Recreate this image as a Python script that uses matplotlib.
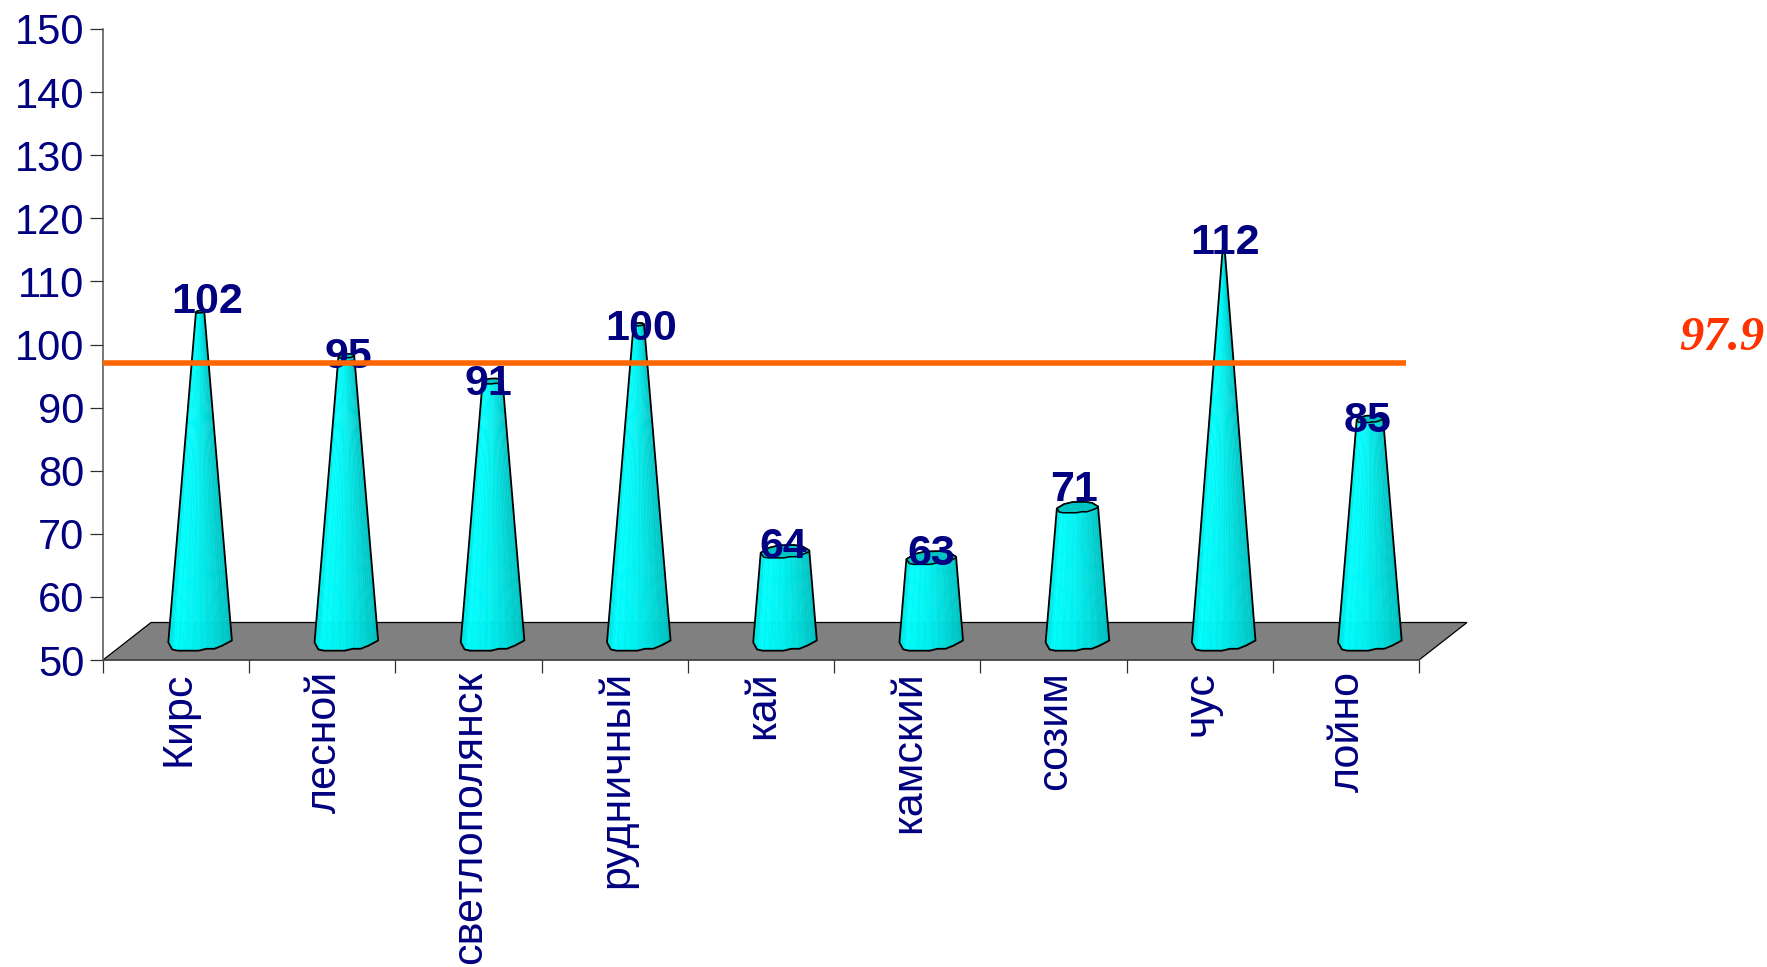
import numpy as np
import matplotlib
matplotlib.use("Agg")
import matplotlib.pyplot as plt
from matplotlib.collections import PolyCollection
from matplotlib.patches import Polygon
from matplotlib.transforms import ScaledTranslation

categories = ["Кирс", "лесной", "светлополянск", "рудничный", "кай", "камский", "созим", "чус", "лойно"]
values = [102, 95, 91, 100, 64, 63, 71, 112, 85]
line_level = 97.1
line_label = "97.9"
y_ticks = list(range(50, 160, 10))

# layout tweaks, in pixels
label_dx = [7, 2, -4, 2, -2, 0, -3, 1, -2]
label_dy = [30, 19, 17, 15, 25, 24, 37, 26, 18]

W, H = 1767, 967
L, R, T, B = 103, 1419, 29, 660
NAVY = "#000080"
plt.rcParams["font.family"] = ["Liberation Sans", "DejaVu Sans"]
fig = plt.figure(figsize=(W / 100, H / 100), dpi=100)
ax = fig.add_axes([L / W, 1 - B / H, (R - L) / W, (B - T) / H])
ax.set_xlim(0, len(categories))
ax.set_ylim(50, 150)
ppx = len(categories) / (R - L)   # data units per pixel, x
ppy = 100 / (B - T)               # data units per pixel, y

for s in ("top", "right"):
    ax.spines[s].set_visible(False)
for s in ("left", "bottom"):
    ax.spines[s].set_color("#505050")
    ax.spines[s].set_linewidth(1.1)
ax.spines["bottom"].set_zorder(1.5)
ax.set_yticks(y_ticks)
ax.tick_params(axis="y", length=9.4, width=0.9, color="#303030", labelsize=30, labelcolor=NAVY, pad=4)
ax.set_xticks(np.arange(len(categories) + 1))
ax.set_xticklabels([])
ax.set_xticks(np.arange(len(categories)) + 0.5, minor=True)
ax.set_xticklabels(categories, minor=True, rotation=90, va="top", ha="center", fontsize=31, color=NAVY)
ax.tick_params(axis="x", which="major", length=9.4, width=0.9, color="#303030")
ax.tick_params(axis="x", which="minor", length=0, pad=8)
shift = ScaledTranslation(2 / 100, 0, fig.dpi_scale_trans)
for lab in ax.get_xticklabels(minor=True):
    lab.set_transform(lab.get_transform() + shift)

# floor
dx_back, dy_back = 48 * ppx, 37.5 * ppy
floor = Polygon([(0, 50), (len(categories), 50), (len(categories) + dx_back, 50 + dy_back), (dx_back, 50 + dy_back)],
                closed=True, fc="#808080", ec="black", lw=0.9, zorder=1, clip_on=False)
ax.add_patch(floor)

# cross-section outlines: u in half widths, v in half widths (pixels)
front_u = np.array([-1, -0.88, -0.7, -0.05, 0.2, 0.45, 0.7, 1.0])
front_v = np.array([-0.06, -0.28, -0.32, -0.32, -0.26, -0.26, -0.16, 0.0])
back_u = np.array([1.0, 0.7, 0.35, -0.25, -0.65, -1.0])
back_v = np.array([0.06, 0.28, 0.34, 0.32, 0.2, -0.06])

ramp_u = [-1, -0.75, -0.1, 0.5, 1]
ramp_g = [0.90, 1.0, 0.95, 0.86, 0.76]
N_STRIPS = 26
BASE_HALF = 31.8     # px
SLOPE_TOP = 262      # px row where the taper would reach zero
BASE_ROW = B - 19    # px row of the base centre
CAP_SQUASH = 0.8

for i, val in enumerate(values):
    cx = i + 0.5 + 24 * ppx
    top_y = val + 20 * ppy                # value raised by floor depth
    top_row = B - (top_y - 50) / ppy
    top_half = max(1.0, BASE_HALF * (top_row - SLOPE_TOP) / (BASE_ROW - SLOPE_TOP))
    base_y = 50 + 19.5 * ppy
    top_v = top_half * CAP_SQUASH

    us = np.linspace(-1, 1, N_STRIPS + 1)
    bv = np.interp(us, front_u, front_v)
    polys, cols = [], []
    for j in range(N_STRIPS):
        u0, u1 = us[j], us[j + 1]
        um = (u0 + u1) / 2
        g = np.interp(um, ramp_u, ramp_g)
        g *= 1 - 0.02 * (j % 3 == 1)
        polys.append([
            (cx + u0 * BASE_HALF * ppx, base_y + bv[j] * BASE_HALF * ppy),
            (cx + u1 * BASE_HALF * ppx, base_y + bv[j + 1] * BASE_HALF * ppy),
            (cx + u1 * top_half * ppx, top_y + bv[j + 1] * top_v * ppy),
            (cx + u0 * top_half * ppx, top_y + bv[j] * top_v * ppy),
        ])
        cols.append((0, g, g))
    ax.add_collection(PolyCollection(polys, facecolors=cols, edgecolors=cols, linewidths=0.3, zorder=2, clip_on=False))

    # silhouette
    sil_x = list(cx + front_u * BASE_HALF * ppx) + list(cx + back_u * top_half * ppx)
    sil_y = list(base_y + front_v * BASE_HALF * ppy) + list(top_y + back_v * top_v * ppy)
    ax.add_patch(Polygon(np.column_stack([sil_x, sil_y]), closed=True, fc="none", ec="black", lw=1.3, zorder=2.5,
                         clip_on=False, joinstyle="round"))
    # top cap
    cap_x = list(cx + front_u * top_half * ppx) + list(cx + back_u * top_half * ppx)
    cap_y = list(top_y + front_v * top_v * ppy) + list(top_y + back_v * top_v * ppy)
    ax.add_patch(Polygon(np.column_stack([cap_x, cap_y]), closed=True, fc="#00C4C4", ec="black", lw=1.1, zorder=2.6,
                         clip_on=False, joinstyle="round"))

    ax.text(i + 0.5 + (24 + label_dx[i]) * ppx, val + label_dy[i] * ppy, str(val), fontsize=31, fontweight="bold",
            color=NAVY, ha="center", va="center", zorder=4, clip_on=False)

# reference line and its label
ax.plot([0, (1406 - L) * ppx], [line_level, line_level], color="#FF6600", lw=4.0, solid_capstyle="butt", zorder=5, clip_on=False)
ax.text(len(categories) + (1722 - R) * ppx, line_level + 24.5 * ppy, line_label, family="Liberation Serif", style="italic",
        fontweight="bold", fontsize=35, color="#FF3300", ha="center", va="center", clip_on=False)

fig.savefig("out.png", dpi=100, facecolor="white")
